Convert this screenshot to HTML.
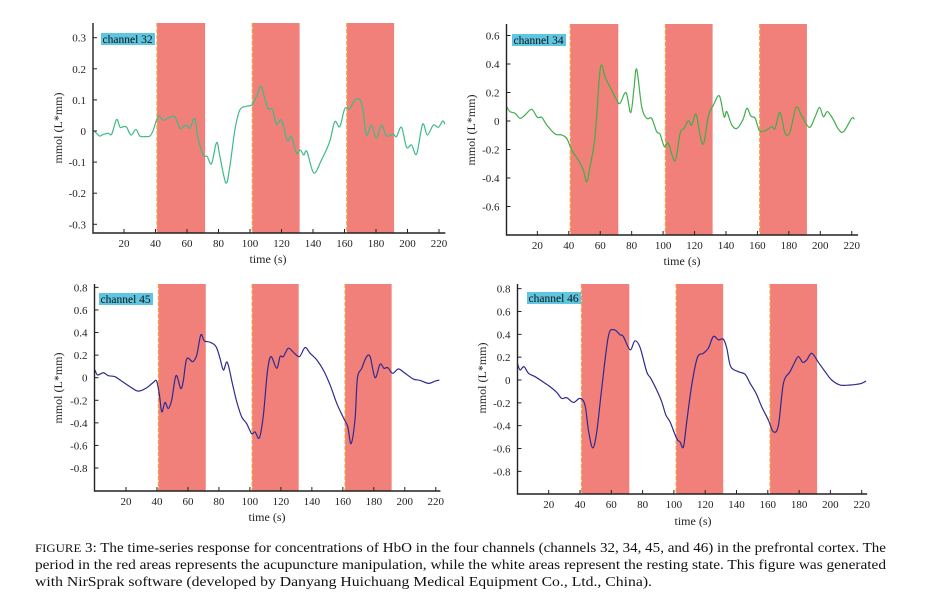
<!DOCTYPE html>
<html><head><meta charset="utf-8">
<style>
html,body{margin:0;padding:0;background:#fff;}
svg{display:block;font-family:"Liberation Serif",serif;}
</style></head>
<body>
<svg id="fig" width="930" height="604" viewBox="0 0 930 604" xmlns="http://www.w3.org/2000/svg">
<g id="panels"></g>
<g font-size="13.5" fill="#111">
<text x="35" y="552" textLength="851" lengthAdjust="spacingAndGlyphs"><tspan font-size="11.5">FIGURE</tspan> 3: The time-series response for concentrations of HbO in the four channels (channels 32, 34, 45, and 46) in the prefrontal cortex. The</text>
<text x="35" y="569" textLength="851" lengthAdjust="spacingAndGlyphs">period in the red areas represents the acupuncture manipulation, while the white areas represent the resting state. This figure was generated</text>
<text x="35" y="586" textLength="617" lengthAdjust="spacingAndGlyphs">with NirSprak software (developed by Danyang Huichuang Medical Equipment Co., Ltd., China).</text>
</g>
</svg>
<script>
// Shared data
const bandStarts = [41, 101.5, 161.5];
const bandEnds = [71.5, 131.5, 191.5];
const xTicks = [20,40,60,80,100,120,140,160,180,200,220];

// channel 32
const t32 = [1.2,4.4,6.9,10,12.2,15.3,17.5,19.6,21.7,24.4,27.6,30,33.3,36.5,38.6,41.8,45,49,52.3,55.5,57.6,59.7,61.8,65,67,70.3,72.8,75.6,78.8,80.9,84.7,87.2,90.4,93.5,97.8,101,104,107,109.4,111.5,114.3,116.8,120,123.6,126.3,129.5,132,134.1,136.2,140.5,145.4,150.6,153.8,157,160.2,163.4,166.5,169.7,171.8,173.9,177.1,180.3,183.5,186.7,190.9,193,196.2,199.4,202.6,205.8,209.6,212.6,216.4,219.6,222.3,223.8];
const v32 = [0,-0.016,-0.011,-0.007,-0.01,0.037,0.012,0.014,0.012,-0.013,0.005,-0.016,-0.018,-0.016,0.003,0.048,0.035,0.044,0.046,0.009,0.014,0.019,0.009,0.04,-0.023,-0.077,-0.082,-0.105,-0.037,-0.082,-0.167,-0.114,0.003,0.067,0.08,0.083,0.11,0.144,0.104,0.072,0.069,0.021,0.035,-0.029,-0.018,-0.071,-0.061,-0.077,-0.066,-0.135,-0.093,-0.034,0.03,0.014,0.072,0.072,0.099,0.101,0.067,-0.013,0.019,-0.023,0.019,-0.016,-0.01,-0.018,0.012,-0.052,-0.045,-0.074,0.022,-0.013,0.019,0.012,0.032,0.022];
const yTicks32 = [0.3,0.2,0.1,0,-0.1,-0.2,-0.3];
const yLabels32 = ["0.3","0.2","0.1","0","-0.1","-0.2","-0.3"];

// channel 34
const t34 = [0.5,2.6,5.8,9,12.2,16.4,20,22.8,26,31.3,35.5,38.7,41.9,46.1,49.3,51.4,53.5,56.7,59.5,61,63,66.3,70.5,72.6,76.4,79.4,81.5,83.2,86.4,89.6,92.7,95.9,98,100.8,103.3,107.6,110.8,113.3,116.1,118.2,121,123.9,126,128.8,132,135.8,138.8,140.5,143.7,146.9,150.7,153.3,155.8,158.6,161.3,164.9,169.2,171.2,174.4,177.6,180.8,184.6,188.2,193.1,196.7,199.5,202,204.6,208.4,211.6,214.8,220,221.7];
const v34 = [0.1,0.066,0.054,0.019,0.042,0.082,0.026,0.026,-0.028,-0.091,-0.098,-0.122,-0.204,-0.274,-0.345,-0.427,-0.321,-0.11,0.312,0.394,0.312,0.237,0.148,0.124,0.199,0.059,0.23,0.363,0.1,0.019,0.019,-0.075,-0.091,-0.18,-0.157,-0.279,-0.087,-0.052,0.002,-0.028,0.047,-0.122,-0.152,0.035,0.112,0.176,0.03,0.066,-0.028,-0.052,0.007,0.089,0.035,0.019,-0.068,-0.068,-0.04,-0.052,0.059,-0.087,-0.075,0.096,0.035,-0.045,0.03,0.096,0.03,0.066,0.007,-0.059,-0.075,0.019,0.012];
const yTicks34 = [0.6,0.4,0.2,0,-0.2,-0.4,-0.6];
const yLabels34 = ["0.6","0.4","0.2","0","-0.2","-0.4","-0.6"];

// channel 45
const t45 = [0,1.7,5.4,8.6,12.9,17.2,22.6,28,33.4,37.7,39.8,41.6,43.1,45.2,47.3,49.5,52.3,55.3,57,59.2,63.1,65.7,68.3,70.6,74.3,78.1,80.7,82.9,85.4,88.9,91.5,94.7,97.9,101.1,103.3,106.1,108.7,111.3,113.6,117.3,119.5,121.6,124.8,128.1,132,135.6,138.9,143.2,147.4,151.8,156.1,160.4,163.2,165.3,167.9,169.4,172.2,175,177.6,180.8,184,186.6,189,192.2,195.9,200.2,205.5,209.9,215.3,219.6,222.3];
const v45 = [0.068,0.024,0.044,0.018,0.009,-0.03,-0.08,-0.119,-0.089,-0.041,-0.03,-0.154,-0.302,-0.219,-0.273,-0.199,0.018,-0.095,-0.03,0.166,0.142,0.201,0.379,0.326,0.314,0.276,0.172,0.068,0.136,-0.065,-0.213,-0.347,-0.406,-0.495,-0.48,-0.533,-0.332,0.053,0.187,0.083,0.187,0.187,0.261,0.225,0.187,0.267,0.216,0.157,0.068,-0.065,-0.228,-0.356,-0.436,-0.584,-0.362,-0.006,0.083,0.178,0.187,0,0.119,0.083,0.089,0.039,0.077,0.039,-0.012,-0.024,-0.05,-0.03,-0.021];
const yTicks45 = [0.8,0.6,0.4,0.2,0,-0.2,-0.4,-0.6,-0.8];
const yLabels45 = ["0.8","0.6","0.4","0.2","0","-0.2","-0.4","-0.6","-0.8"];

// channel 46
const t46 = [0,1.7,4.2,7.1,11.3,16.2,20.9,25.1,28.3,31.5,35.8,40,43.2,45.4,48.1,50.7,53.9,58.1,61.7,65.6,67.7,72,75.1,78.4,82.6,85.2,89,92.2,94.9,97.5,101.8,103.9,106.1,108.2,111.4,115,118.8,122,125.2,128.4,131.6,133.8,136.3,141.2,145.5,148.7,152.5,156.1,160.4,163.6,166.8,170,174.2,177.4,179.6,182.3,184.9,188.1,192.3,196.6,200.8,206.2,212.6,216.8,220,222.8];
const v46 = [0.147,0.088,0.117,0.059,0.029,-0.015,-0.059,-0.108,-0.161,-0.155,-0.196,-0.161,-0.22,-0.44,-0.595,-0.454,-0.073,0.381,0.44,0.396,0.381,0.264,0.343,0.284,0.073,0.015,-0.088,-0.19,-0.308,-0.366,-0.513,-0.542,-0.586,-0.366,-0.044,0.196,0.234,0.278,0.381,0.352,0.357,0.278,0.117,0.073,0.05,-0.029,-0.117,-0.234,-0.352,-0.454,-0.396,-0.029,0.073,0.161,0.205,0.155,0.176,0.234,0.155,0.073,0,-0.044,-0.044,-0.038,-0.029,-0.009];

const NS = "http://www.w3.org/2000/svg";
function mk(tag, attrs, parent){
  const e = document.createElementNS(NS, tag);
  for (const k in attrs) e.setAttribute(k, attrs[k]);
  if (parent) parent.appendChild(e);
  return e;
}
function smoothPath(pts){
  let d = "M" + pts[0][0].toFixed(2) + "," + pts[0][1].toFixed(2);
  for (let i=0;i<pts.length-1;i++){
    const p0 = pts[i-1]||pts[i], p1=pts[i], p2=pts[i+1], p3=pts[i+2]||p2;
    const c1x = p1[0]+(p2[0]-p0[0])/6, c1y = p1[1]+(p2[1]-p0[1])/6;
    const c2x = p2[0]-(p3[0]-p1[0])/6, c2y = p2[1]-(p3[1]-p1[1])/6;
    d += " C"+c1x.toFixed(2)+","+c1y.toFixed(2)+" "+c2x.toFixed(2)+","+c2y.toFixed(2)+" "+p2[0].toFixed(2)+","+p2[1].toFixed(2);
  }
  return d;
}

function drawPanel(cfg){
  const root = document.getElementById("panels");
  const g = mk("g", {}, root);
  
  
  const sx = t => cfg.x0 + t*cfg.kx;
  const sy = v => cfg.y0 - v*cfg.ky;
  const xL = cfg.left, xR = sx(cfg.tmax), yT = cfg.top, yB = cfg.bottom;
  // bands
  for (let i=0;i<bandStarts.length;i++){
    const r = mk("rect", {x:sx(bandStarts[i]), y:yT, width:sx(bandEnds[i])-sx(bandStarts[i]), height:yB-yT, fill:"#f2807a"}, g);
    
    
    const l = mk("line", {x1:sx(bandStarts[i]), x2:sx(bandStarts[i]), y1:yT, y2:yB, stroke:"#f39a3a", "stroke-width":1.3, "stroke-dasharray":"4,2"}, g);
    
    
  }
  // series
  const pts = cfg.t.map((t,i)=>[sx(t), sy(cfg.v[i])]);
  const p = mk("path", {d:smoothPath(pts), fill:"none", stroke:cfg.color, "stroke-width":1.2}, g);
  
  
  // axes
  const ax = mk("path", {d:"M"+xL+","+yT+" L"+xL+","+yB+" L"+xR+","+yB, fill:"none", stroke:"#222", "stroke-width":1.4}, g);
  
  
  // x ticks
  xTicks.forEach(t=>{
    mk("line",{x1:sx(t),x2:sx(t),y1:yB,y2:yB-4,stroke:"#222","stroke-width":1},g);
    const tx = mk("text",{x:sx(t),y:yB+14,"text-anchor":"middle","font-size":11,fill:"#222"},g);
    tx.textContent = t;
    
    
  });
  // y ticks
  cfg.yt.forEach((v,i)=>{
    mk("line",{x1:xL,x2:xL+4,y1:sy(v),y2:sy(v),stroke:"#222","stroke-width":1},g);
    const tx = mk("text",{x:xL-7,y:sy(v)+4,"text-anchor":"end","font-size":11,fill:"#222"},g);
    tx.textContent = cfg.yl[i];
    
    
  });
  const xt = mk("text",{x:cfg.xtx,y:cfg.xty,"text-anchor":"middle","font-size":12,fill:"#222"},g);
  xt.textContent = "time (s)";
  
  
  const yt = mk("text",{x:0,y:0,"text-anchor":"middle","font-size":12,fill:"#222",transform:"translate("+cfg.ytx+","+cfg.yty+") rotate(-90)"},g);
  yt.textContent = "mmol (L*mm)";
  
  
  const lb = mk("rect",{x:cfg.lx,y:cfg.ly,width:54,height:12,fill:"#5fc6e2"},g);
  
  
  const lt = mk("text",{x:cfg.lx+1.5,y:cfg.ly+10,"font-size":11.5,fill:"#111"},g);
  lt.textContent = cfg.label;
  
  
}

drawPanel({name:"panel-channel-32",t:t32,v:v32,yt:yTicks32,yl:yLabels32,color:"#3dbb85",
  x0:92.5,kx:1.575,y0:131,ky:311,left:93,top:23,bottom:233,tmax:224,
  xtx:268,xty:263,ytx:62,yty:128,lx:101,ly:33,label:"channel 32"});
drawPanel({name:"panel-channel-34",t:t34,v:v34,yt:yTicks34,yl:yLabels34,color:"#3fae4a",
  x0:505.9,kx:1.572,y0:121,ky:142.5,left:506.5,top:24,bottom:235,tmax:224,
  xtx:682,xty:265,ytx:475,yty:130,lx:512,ly:34,label:"channel 34"});
drawPanel({name:"panel-channel-45",t:t45,v:v45,yt:yTicks45,yl:yLabels45,color:"#2e2a8e",
  x0:95,kx:1.549,y0:377.7,ky:112.9,left:94.5,top:284,bottom:491,tmax:223,
  xtx:267,xty:521,ytx:62,yty:388,lx:99,ly:293,label:"channel 45"});
drawPanel({name:"panel-channel-46",t:t46,v:v46,yt:yTicks45,yl:yLabels45,color:"#2e2a8e",
  x0:517.4,kx:1.565,y0:380,ky:114.2,left:517.5,top:284,bottom:494,tmax:223.5,
  xtx:693,xty:525,ytx:486,yty:378,lx:527,ly:292,label:"channel 46"});
</script>
</body></html>
